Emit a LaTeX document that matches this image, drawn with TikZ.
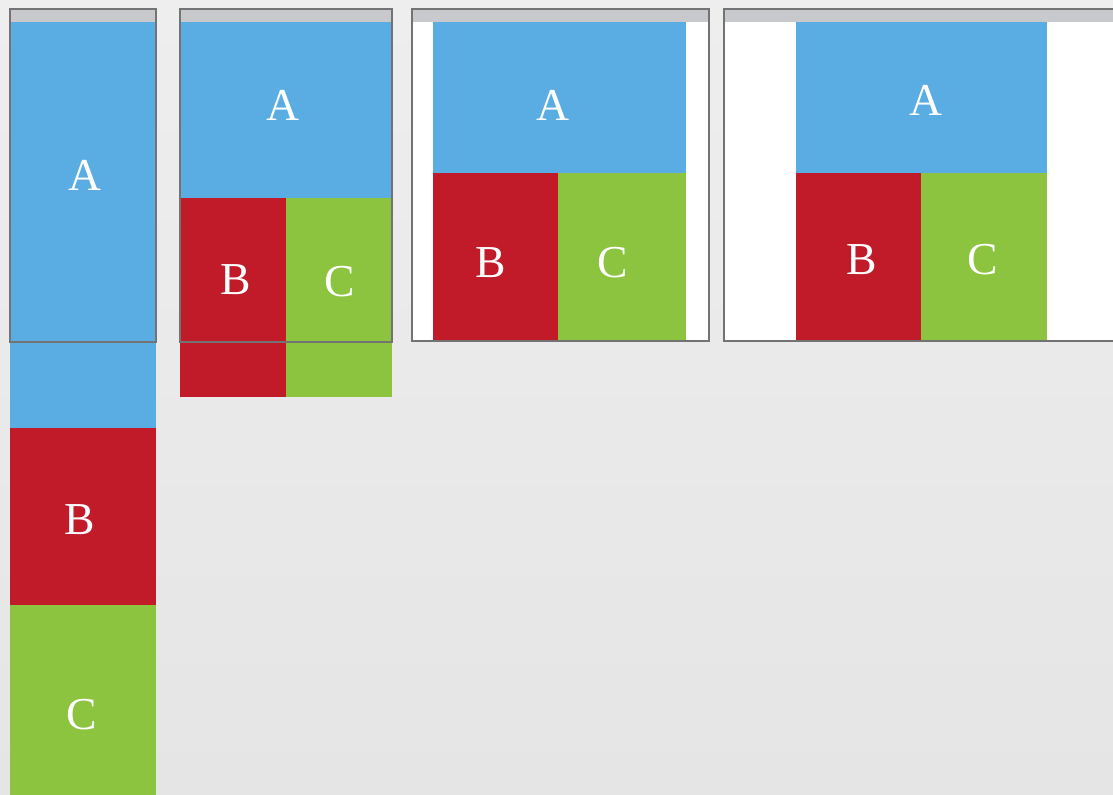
\documentclass[tikz,border=0pt]{standalone}
\usepackage{fontspec}
\setmainfont{Liberation Serif}
\usetikzlibrary{positioning}

\definecolor{tileblue}{HTML}{5AADE2}
\definecolor{tilered}{HTML}{C11B2A}
\definecolor{tilegreen}{HTML}{8CC43F}
\definecolor{bargray}{HTML}{C8C9CD}
\definecolor{pagetop}{HTML}{EEEEEE}
\definecolor{pagebottom}{HTML}{E5E5E5}

\tikzset{
  letter/.style={font=\fontsize{26}{30}\selectfont, text=white, inner sep=0pt},
  frame/.style={draw=black!55, line width=0.9pt},
  titlebar/.style={fill=bargray},
}

\begin{document}
\begin{tikzpicture}[x=0.02cm, y=-0.02cm]
    \useasboundingbox (0,0) rectangle (1113,795);
    \clip (0,0) rectangle (1113,795);
    % Background
    \shade[top color=pagetop, bottom color=pagebottom] (0,0) rectangle (1113,795);

    % Window 1: narrow, everything stacked
    \fill[titlebar] (10,9) rectangle (156,22);
    \fill[tileblue] (10,22) rectangle (156,428);
    \fill[tilered] (10,428) rectangle (156,605);
    \fill[tilegreen] (10,605) rectangle (156,795);
    \draw[frame] (10,9) rectangle (156,342);
    \node[letter] (a1) at (85,175) {A};
    \node[letter] (b1) at (80,520) {B};
    \node[letter] (c1) at (82,715) {C};

    % Window 2: B and C side by side, overflowing
    \fill[titlebar] (180,9) rectangle (392,22);
    \fill[tileblue] (180,22) rectangle (392,198);
    \fill[tilered] (180,198) rectangle (286,397);
    \fill[tilegreen] (286,198) rectangle (392,397);
    \draw[frame] (180,9) rectangle (392,342);
    \node[letter] (a2) at (283,105) {A};
    \node[letter] (b2) at (236,280) {B};
    \node[letter] (c2) at (340,282) {C};

    % Window 3: fits, small margins
    \fill[white] (412,9) rectangle (709,341);
    \fill[titlebar] (412,9) rectangle (709,22);
    \fill[tileblue] (433,22) rectangle (686,173);
    \fill[tilered] (433,173) rectangle (558,341);
    \fill[tilegreen] (558,173) rectangle (686,341);
    \draw[frame] (412,9) rectangle (709,341);
    \node[letter] (a3) at (553,105) {A};
    \node[letter] (b3) at (491,263) {B};
    \node[letter] (c3) at (613,263) {C};

    % Window 4: wide, centred content
    \fill[white] (724,9) rectangle (1125,341);
    \fill[titlebar] (724,9) rectangle (1125,22);
    \fill[tileblue] (796,22) rectangle (1047,173);
    \fill[tilered] (796,173) rectangle (921,341);
    \fill[tilegreen] (921,173) rectangle (1047,341);
    \draw[frame] (724,9) rectangle (1125,341);
    \node[letter] (a4) at (926,100) {A};
    \node[letter] (b4) at (862,260) {B};
    \node[letter] (c4) at (983,260) {C};
\end{tikzpicture}
\end{document}
